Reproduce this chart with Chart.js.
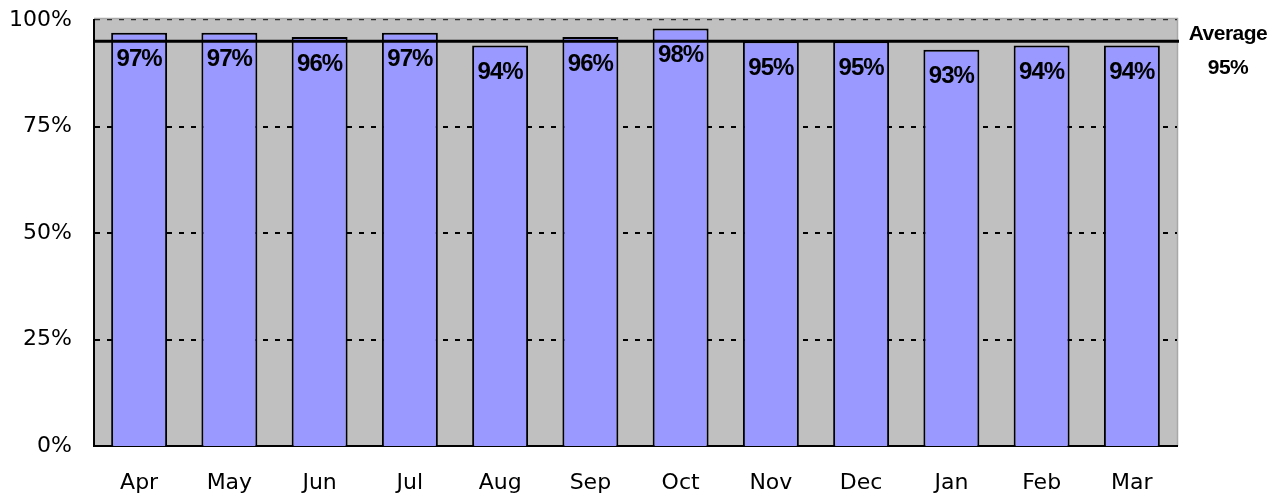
<!DOCTYPE html>
<html>
<head>
<meta charset="utf-8">
<script src="https://cdn.jsdelivr.net/npm/chart.js@4/dist/chart.umd.min.js"></script>
<style>
  html, body { margin: 0; padding: 0; background: #fff; }
  #wrap { width: 1281px; height: 494px; }
</style>
</head>
<body>
<div id="wrap"><canvas id="bar-chart"></canvas></div>
<script>
var months = ["Apr", "May", "Jun", "Jul", "Aug", "Sep", "Oct", "Nov", "Dec", "Jan", "Feb", "Mar"];
var rates = [97, 97, 96, 97, 94, 96, 98, 95, 95, 93, 94, 94];
var average = 95;
var yTicks = [0, 25, 50, 75, 100];

// grey plot area, average line and text labels
var decorations = {
    id: 'decorations',
    beforeDraw: function (chart) {
        var ctx = chart.ctx;
        var a = chart.chartArea;
        ctx.save();
        ctx.fillStyle = '#C0C0C0';
        ctx.fillRect(a.left, a.top - 2, a.right - a.left, a.bottom - a.top + 2);
        ctx.strokeStyle = '#A8A8A8';
        ctx.lineWidth = 1.5;
        ctx.beginPath();
        ctx.moveTo(a.left, a.top - 1.5);
        ctx.lineTo(a.right + 0.5, a.top - 1.5);
        ctx.lineTo(a.right + 0.5, a.bottom);
        ctx.stroke();
        ctx.restore();
    },
    afterDatasetsDraw: function (chart) {
        var ctx = chart.ctx;
        var a = chart.chartArea;
        var y = chart.scales.y;
        var avgY = y.getPixelForValue(average);
        ctx.save();
        ctx.strokeStyle = '#000';
        ctx.lineWidth = 3;
        ctx.beginPath();
        ctx.moveTo(a.left, avgY);
        ctx.lineTo(a.right + 2, avgY);
        ctx.stroke();

        ctx.fillStyle = '#000';
        ctx.textAlign = 'center';
        ctx.textBaseline = 'middle';
        ctx.font = 'bold 24px "Liberation Sans", Arial, sans-serif';
        ctx.letterSpacing = '-1px';
        var meta = chart.getDatasetMeta(0);
        for (var i = 0; i < meta.data.length; ++i) {
            var bar = meta.data[i];
            ctx.fillText(rates[i] + '%', bar.x, y.getPixelForValue(rates[i]) + 27);
        }
        ctx.font = 'bold 21px "Liberation Sans", Arial, sans-serif';
        ctx.letterSpacing = '-0.5px';
        ctx.fillText('Average', 1228, avgY - 7);
        ctx.fillText(average + '%', 1228, avgY + 27);
        ctx.restore();
    }
};

new Chart(document.getElementById("bar-chart"), {
    type: 'bar',
    data: {
        labels: months,
        datasets: [{
            label: "Rate",
            data: rates,
            backgroundColor: '#9999FF',
            borderColor: '#000',
            borderWidth: 2,
            barPercentage: 0.62,
            categoryPercentage: 1
        }]
    },
    options: {
        responsive: true,
        maintainAspectRatio: false,
        animation: false,
        layout: { padding: { top: 20, right: 104, left: 0, bottom: 0 } },
        plugins: {
            legend: { display: false },
            tooltip: { enabled: false }
        },
        scales: {
            x: {
                grid: { display: false, drawTicks: false },
                border: { display: true, color: '#000', width: 2 },
                ticks: {
                    color: '#000',
                    padding: 24,
                    font: { family: '"DejaVu Sans", Tahoma, sans-serif', size: 22 }
                },
                afterFit: function (scale) { scale.height = 48; }
            },
            y: {
                min: 0,
                max: 100,
                afterBuildTicks: function (scale) {
                    scale.ticks = yTicks.map(function (v) { return { value: v }; });
                },
                grid: {
                    drawTicks: false,
                    color: function (c) { return c.tick && c.tick.value === 100 ? '#303030' : '#000'; },
                    lineWidth: function (c) { return c.tick && c.tick.value === 0 ? 0 : (c.tick && c.tick.value === 100 ? 1.2 : 2); }
                },
                border: { display: true, color: '#000', width: 2, dash: [5, 7] },
                ticks: {
                    color: '#000',
                    padding: 22,
                    font: { family: '"DejaVu Sans", Tahoma, sans-serif', size: 22 },
                    callback: function (v) { return v + '%'; }
                },
                afterFit: function (scale) {
                    scale.width = 94;
                    scale.paddingTop = 0;
                    scale.paddingBottom = 0;
                }
            }
        }
    },
    plugins: [decorations]
});
</script>
</body>
</html>
